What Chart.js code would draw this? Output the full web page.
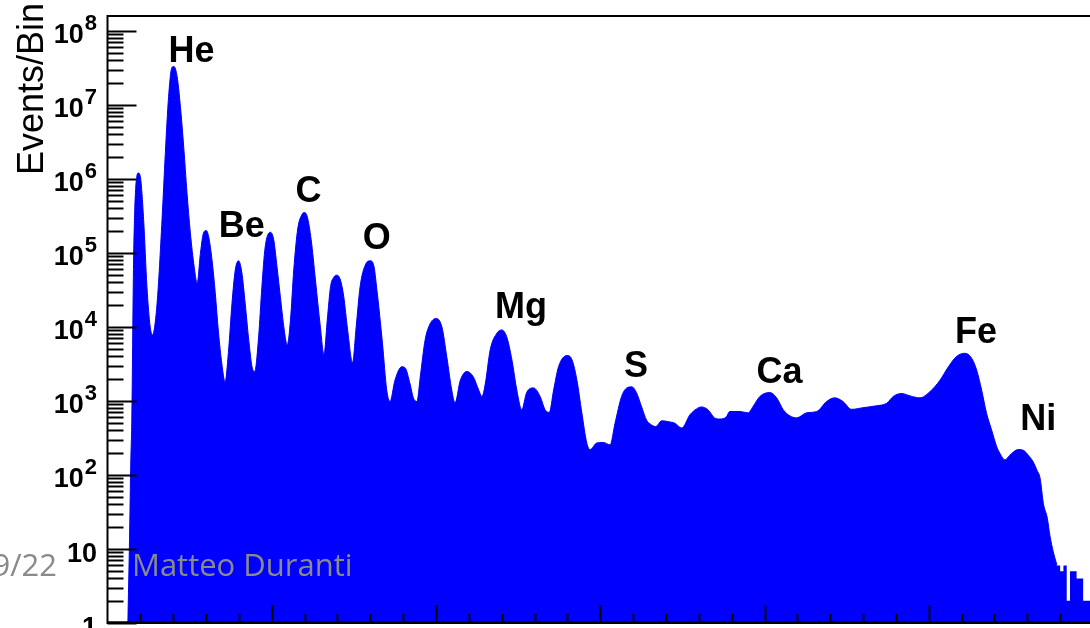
<!DOCTYPE html>
<html>
	<head>
		<meta charset="UTF-8" />
		<title>Charge spectrum</title>
		<script src="https://cdn.jsdelivr.net/npm/chart.js"></script>
		<style>
			html, body { margin: 0; padding: 0; background: #fff; overflow: hidden; }
			#spectrum { position: absolute; left: 0; top: 0; }
		</style>
	</head>
	<body>
		<canvas id="spectrum" width="1100" height="640"></canvas>

		<script>
			// reconstructed charge (Z) and events per bin along the spectrum
			const charge = [
			  0.62, 0.67, 0.71, 0.74, 0.79, 0.83, 0.90, 0.94, 1.00, 1.10, 1.20, 1.30, 1.37, 1.51, 1.66, 1.76,
			  1.86, 1.96, 2.02, 2.12, 2.22, 2.32, 2.42, 2.52, 2.64, 2.73,
			  2.83, 2.93, 3.01, 3.08, 3.18, 3.28, 3.38, 3.48, 3.58,
			  3.68, 3.79, 3.89, 3.99, 4.09, 4.19, 4.30, 4.40, 4.48,
			  4.60, 4.70, 4.80, 4.96, 5.06, 5.16, 5.26, 5.38, 5.47,
			  5.57, 5.67, 5.79, 5.92, 5.99, 6.08, 6.20, 6.33, 6.48, 6.59,
			  6.69, 6.79, 6.89, 6.99, 7.09, 7.19, 7.31, 7.46,
			  7.57, 7.69, 7.85, 8.00, 8.10, 8.20, 8.37, 8.50, 8.60,
			  8.75, 8.96, 9.06, 9.21, 9.31, 9.42,
			  9.52, 9.67, 9.82, 10.00, 10.18, 10.33, 10.48, 10.58,
			  10.74, 10.94, 11.14, 11.30, 11.40,
			  11.50, 11.65, 11.86, 12.00, 12.15, 12.31, 12.46, 12.61,
			  12.76, 12.97, 13.17, 13.32, 13.45,
			  13.58, 13.73, 13.99, 14.14, 14.29, 14.44, 14.59, 14.69,
			  14.89, 15.09, 15.30,
			  15.45, 15.65, 15.81, 15.96, 16.10, 16.26, 16.41, 16.56, 16.69,
			  16.87, 17.07, 17.27, 17.48,
			  17.73, 17.93, 18.08, 18.28, 18.48, 18.64, 18.84,
			  18.94, 19.25, 19.50,
			  19.65, 19.86, 20.16, 20.37, 20.57, 20.77, 20.98,
			  21.28, 21.59, 21.89, 22.14, 22.39, 22.65, 23.00, 23.41, 23.72, 23.92, 24.17, 24.43, 24.73,
			  25.04, 25.34, 25.60, 25.85, 26.10, 26.30, 26.46, 26.61, 26.76, 26.91, 27.07, 27.17, 27.32,
			  27.47, 27.72, 27.88, 28.03, 28.18, 28.29, 28.39, 28.49, 28.61, 28.69, 28.79, 28.90
			];
			const events = [
			  1, 13, 160, 550, 5.9e4, 3.8e5, 1.13e6, 1.2e6, 1.07e6, 2.8e5, 3.5e4, 1.0e4, 7.8e3, 2.1e4, 2.8e5, 2.2e6,
			  1.3e7, 3.2e7, 3.3e7, 2.4e7, 9.4e6, 2.7e6, 6.5e5, 1.9e5, 6.4e4, 3.9e4,
			  1.0e5, 1.9e5, 2.0e5, 1.65e5, 8.1e4, 2.9e4, 8.3e3, 3.2e3, 1.8e3,
			  4.5e3, 2.1e4, 5.9e4, 7.8e4, 5.4e4, 2.1e4, 6.6e3, 2.9e3, 2.5e3,
			  7.3e3, 3.5e4, 1.2e5, 1.9e5, 1.5e5, 6.5e4, 2.6e4, 9.1e3, 5.7e3,
			  1.24e4, 5.9e4, 2.1e5, 3.3e5, 3.5e5, 3.1e5, 1.5e5, 4.3e4, 1.0e4, 4.2e3,
			  1.24e4, 3.5e4, 4.7e4, 5.0e4, 4.3e4, 2.6e4, 9.1e3, 3.3e3,
			  1.0e4, 3.5e4, 6.9e4, 7.8e4, 6.9e4, 3.2e4, 6.0e3, 1.4e3, 980,
			  1.9e3, 2.9e3, 2.8e3, 1.7e3, 1.1e3, 980,
			  2.1e3, 6.7e3, 1.1e4, 1.3e4, 1.0e4, 3.9e3, 1.4e3, 940,
			  1.9e3, 2.5e3, 2.1e3, 1.4e3, 1.15e3,
			  1.7e3, 4.9e3, 8.3e3, 9.1e3, 7.4e3, 3.6e3, 1.4e3, 760,
			  1.3e3, 1.5e3, 1.15e3, 760, 700,
			  1.4e3, 2.9e3, 4.1e3, 3.6e3, 1.9e3, 690, 270, 220,
			  270, 275, 255,
			  500, 1.15e3, 1.5e3, 1.55e3, 1.3e3, 830, 550, 475, 450,
			  540, 525, 500, 430,
			  650, 780, 830, 760, 590, 570, 610,
			  720, 720, 690,
			  840, 1.15e3, 1.3e3, 1.1e3, 760, 630, 590,
			  690, 720, 980, 1.1e3, 980, 770, 810, 860, 930, 1.15e3, 1.26e3, 1.17e3, 1.1e3,
			  1.34e3, 1.9e3, 2.9e3, 4.0e3, 4.4e3, 3.8e3, 2.6e3, 1.4e3, 680, 410, 240, 195, 160,
			  185, 220, 215, 185, 150, 117, 90, 41, 26, 15, 9.2, 6.1
			];

			// sparse high-charge bins (left edges, width 0.1)
			const tailCharge = [28.84, 29.0, 29.1, 29.2, 29.3, 29.4, 29.5, 29.6, 29.7, 29.8, 29.9, 30.0];
			const tailEvents = [6, 6, 5, 6, 2, 5, 5, 4, 4, 2, 2, 2];

			// element names with the (Z, events) point where each name sits
			const elementNames = ['He', 'Be', 'C', 'O', 'Mg', 'S', 'Ca', 'Fe', 'Ni'];
			const elementZ = [2.56, 4.09, 6.12, 8.20, 12.59, 16.09, 20.46, 26.44, 28.33];
			const elementEvents = [3.8e7, 1.65e5, 4.9e5, 1.13e5, 1.33e4, 2.1e3, 1.75e3, 6.1e3, 410];

			// y axis decades and their labels ("^" marks the exponent)
			const yTickValues = [1, 10, 1e2, 1e3, 1e4, 1e5, 1e6, 1e7, 1e8];
			const yTickLabels = ['1', '10', '10^2', '10^3', '10^4', '10^5', '10^6', '10^7', '10^8'];

			const yTitle = 'Events/Bin';
			const footerPage = '9/22';
			const footerAuthor = 'Matteo Duranti';

			const BLUE = '#0000ff';
			const FONT = '"Liberation Sans", Arial, Helvetica, sans-serif';

			// ROOT-like frame: inward ticks, superscript decade labels, element names
			const rootFrame = {
			  id: 'rootFrame',
			  afterDatasetsDraw(chart) {
			    const { ctx, chartArea: a, scales: { x, y } } = chart;
			    ctx.save();
			    ctx.strokeStyle = '#000';
			    ctx.fillStyle = '#000';
			    ctx.lineWidth = 2;

			    // frame
			    ctx.beginPath();
			    ctx.moveTo(a.left, a.bottom);
			    ctx.lineTo(a.left, a.top);
			    ctx.lineTo(a.right, a.top);
			    ctx.lineTo(a.right, a.bottom);
			    ctx.closePath();
			    ctx.stroke();
			    ctx.lineWidth = 2.4;
			    ctx.beginPath();
			    ctx.moveTo(a.left, a.bottom - 0.5);
			    ctx.lineTo(a.right, a.bottom - 0.5);
			    ctx.stroke();

			    // y ticks, major at decades, minor at 2..9
			    ctx.lineWidth = 2;
			    yTickValues.forEach(d => {
			      for (let m = 1; m <= 9; m++) {
			        const v = d * m;
			        if (v > y.max) break;
			        const py = Math.round(y.getPixelForValue(v)) + 0.5;
			        ctx.beginPath();
			        ctx.moveTo(a.left, py);
			        ctx.lineTo(a.left + (m === 1 ? 29 : 16), py);
			        ctx.stroke();
			      }
			    });

			    // x ticks at every charge unit, long ones every 5
			    for (let z = Math.ceil(x.min) + 1; z < x.max; z++) {
			      const px = Math.round(x.getPixelForValue(z)) + 0.5;
			      ctx.beginPath();
			      ctx.moveTo(px, a.bottom);
			      ctx.lineTo(px, a.bottom - (z % 5 === 0 ? 18 : 9));
			      ctx.stroke();
			    }

			    // decade labels
			    const labelRight = 97;
			    yTickValues.forEach((v, i) => {
			      const py = y.getPixelForValue(v);
			      const [base, power] = yTickLabels[i].split('^');
			      ctx.textBaseline = 'alphabetic';
			      ctx.textAlign = 'right';
			      if (power === undefined) {
			        ctx.font = 'bold 27px ' + FONT;
			        ctx.fillText(base, labelRight, py + 13);
			      } else {
			        ctx.font = 'bold 22px ' + FONT;
			        const pw = ctx.measureText(power).width;
			        ctx.fillText(power, labelRight, py - 1);
			        ctx.font = 'bold 27px ' + FONT;
			        ctx.fillText(base, labelRight - pw - 1, py + 12.5);
			      }
			    });

			    // axis title
			    ctx.save();
			    ctx.translate(43, 175);
			    ctx.rotate(-Math.PI / 2);
			    ctx.font = '36px ' + FONT;
			    ctx.textAlign = 'left';
			    ctx.fillText(yTitle, 0, 0);
			    ctx.restore();

			    // element names
			    ctx.font = 'bold 36px ' + FONT;
			    ctx.textAlign = 'center';
			    elementNames.forEach((name, i) => {
			      ctx.fillText(name, x.getPixelForValue(elementZ[i]), y.getPixelForValue(elementEvents[i]));
			    });

			    // slide footer
			    ctx.font = '31px "Open Sans", "Noto Sans", sans-serif';
			    ctx.fillStyle = '#8a8a8a';
			    ctx.textAlign = 'right';
			    ctx.fillText(footerPage, 57, 576);
			    ctx.textAlign = 'left';
			    ctx.fillText(footerAuthor, 132, 576);
			    ctx.restore();
			  }
			};

			const ctx = document.getElementById('spectrum').getContext('2d');
			new Chart(ctx, {
			  type: 'line',
			  data: {
			    datasets: [
			      {
			        data: charge.map((z, i) => ({ x: z, y: events[i] })),
			        borderColor: BLUE,
			        backgroundColor: BLUE,
			        borderWidth: 1,
			        fill: 'start',
			        cubicInterpolationMode: 'monotone',
			        pointRadius: 0
			      },
			      {
			        data: tailCharge.map((z, i) => ({ x: z, y: tailEvents[i] })),
			        borderColor: BLUE,
			        backgroundColor: BLUE,
			        borderWidth: 0,
			        fill: 'start',
			        stepped: 'after',
			        pointRadius: 0
			      }
			    ]
			  },
			  options: {
			    responsive: false,
			    animation: false,
			    layout: { padding: { left: 107.5, top: 16, right: 7, bottom: 17 } },
			    plugins: { legend: { display: false }, tooltip: { enabled: false } },
			    scales: {
			      x: { type: 'linear', min: 0, max: 30, display: false },
			      y: { type: 'logarithmic', min: 1, max: 1.585e8, display: false }
			    }
			  },
			  plugins: [rootFrame]
			});
		</script>
	</body>
</html>
